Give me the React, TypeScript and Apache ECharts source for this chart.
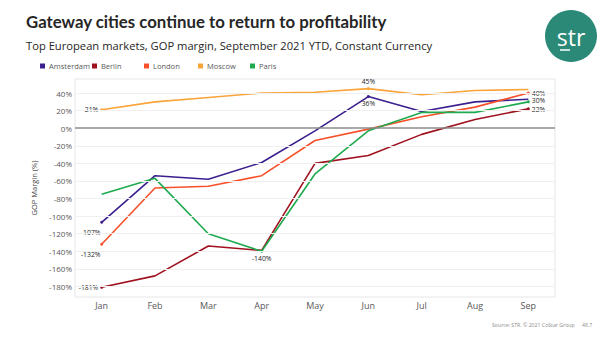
import React, { useEffect, useRef } from "react";
import * as echarts from "echarts";

const months = ["Jan", "Feb", "Mar", "Apr", "May", "Jun", "Jul", "Aug", "Sep"];
const amsterdam = [-107, -54, -58, -39, -3, 36, 19, 30, 33];
const berlin = [-181, -168, -134, -139, -40, -31, -7, 10, 22];
const london = [-132, -68, -66, -54, -14, -1, 13, 24, 40];
const moscow = [21, 30, 35, 40, 41, 45, 38, 43, 44];
const paris = [-75, -57, -120, -140, -52, -3, 18, 18, 30];
const gridTicks = [40, 20, -20, -40, -60, -80, -100, -120, -140, -160, -180];

const cityNames = ["Amsterdam", "Berlin", "London", "Moscow", "Paris"];
const cityValues = [amsterdam, berlin, london, moscow, paris];
const cityColors = ["#3b1f8e", "#a0111f", "#f7502a", "#faa43a", "#1faa4f"];
const legendLefts = [40, 92, 144, 198, 250];
// [city index, month index, label position]
const labelled: [number, number, string][] = [
  [0, 0, "bottomLeft"],
  [1, 0, "left"],
  [2, 0, "bottomLeft"],
  [3, 0, "left"],
  [4, 3, "bottom"],
  [3, 5, "top"],
  [0, 5, "bottom"],
  [2, 8, "right"],
  [4, 8, "rightUp"],
  [1, 8, "rightDown"],
];

export default function App() {
  const ref = useRef<HTMLDivElement>(null);
  useEffect(() => {
    if (!ref.current) return;
    const chart = echarts.init(ref.current, undefined, { renderer: "svg" });
    const series: any[] = cityNames.map((name, ci) => ({
      name,
      type: "line",
      symbol: "none",
      color: cityColors[ci],
      lineStyle: { width: 1.6, color: cityColors[ci] },
      data: cityValues[ci].map((v, mi) => {
        const l = labelled.find((x) => x[0] === ci && x[1] === mi);
        if (!l) return v;
        const pos = l[2];
        const label: any = {
          show: true,
          formatter: (p: any) => p.value + "%",
          fontSize: 6.8,
          color: "#262626",
          fontFamily: "Open Sans",
        };
        if (pos === "bottomLeft") {
          label.position = "bottom";
          label.offset = [-11, 0];
        } else if (pos === "rightUp") {
          label.position = "right";
          label.distance = 2;
          label.offset = [0, -1];
        } else if (pos === "rightDown") {
          label.position = "right";
          label.distance = 2;
          label.offset = [0, 1];
        } else {
          label.position = pos;
          label.distance = 2;
        }
        return { value: v, symbol: "circle", symbolSize: 3, label };
      }),
      z: 3,
    }));
    series.push({
      type: "line",
      data: [],
      silent: true,
      markLine: {
        silent: true,
        symbol: "none",
        label: { show: false },
        lineStyle: { color: "#f0f0f0", width: 1, type: "solid" },
        data: gridTicks.map((t) => ({ yAxis: t })),
      },
      z: 1,
    });
    series.push({
      type: "line",
      data: [],
      silent: true,
      markLine: {
        silent: true,
        symbol: "none",
        label: { show: false },
        lineStyle: { color: "#8c8c8c", width: 1.5, type: "solid" },
        data: [{ yAxis: 0 }],
      },
      z: 2,
    });
    chart.setOption({
      animation: false,
      textStyle: { fontFamily: "Open Sans" },
      title: [
        {
          text: "Gateway cities continue to return to profitability",
          left: 21,
          top: 8,
          textStyle: { fontSize: 16.8, fontWeight: "bold", color: "#262626", fontFamily: "Lato" },
        },
        {
          text: "Top European markets, GOP margin, September 2021 YTD, Constant Currency",
          left: 21,
          top: 35,
          textStyle: { fontSize: 11.2, fontWeight: "normal", color: "#262626", fontFamily: "Open Sans" },
        },
      ],
      legend: cityNames.map((n, i) => ({
        left: legendLefts[i],
        top: 62,
        itemWidth: 5,
        itemHeight: 5,
        itemGap: 4,
        icon: "rect",
        padding: 0,
        lineStyle: { width: 0, opacity: 0 },
        data: [n],
        textStyle: { fontSize: 7.5, color: "#595959", padding: [0, 0, 0, -1] },
      })),
      grid: {
        left: 75,
        right: 50,
        top: 79,
        bottom: 41,
        show: true,
        borderColor: "#e6e6e6",
        borderWidth: 1,
      },
      xAxis: {
        type: "category",
        data: months,
        axisLine: { show: false },
        axisTick: { show: false },
        axisLabel: { fontSize: 9, color: "#595959", margin: 4 },
      },
      yAxis: {
        type: "value",
        min: -192,
        max: 56,
        interval: 4,
        name: "GOP Margin (%)",
        nameLocation: "middle",
        nameRotate: 90,
        nameGap: 30,
        nameTextStyle: { fontSize: 7.5, color: "#404040" },
        axisLine: { show: false },
        axisTick: { show: false },
        splitLine: { show: false },
        axisLabel: {
          fontSize: 8,
          color: "#595959",
          margin: 3,
          formatter: (v: number) => (v % 20 === 0 ? Math.round(v) + "%" : ""),
        },
      },
      graphic: [
        { type: "circle", shape: { cx: 571, cy: 36, r: 26 }, style: { fill: "#2b8a77" } },
        {
          type: "text",
          x: 571,
          y: 37,
          style: {
            text: "str",
            fill: "#ffffff",
            fontSize: 23,
            fontFamily: "Open Sans",
            align: "center",
            verticalAlign: "middle",
          },
        },
        { type: "line", shape: { x1: 560, y1: 50, x2: 570, y2: 50 }, style: { stroke: "#ffffff", lineWidth: 1.5 } },
        {
          type: "text",
          x: 492,
          y: 325,
          style: { text: "Source: STR. © 2021 CoStar Group", fill: "#8c8c8c", fontSize: 5.2, verticalAlign: "middle", fontFamily: "Open Sans" },
        },
        {
          type: "text",
          x: 582,
          y: 325,
          style: { text: "48.7", fill: "#8c8c8c", fontSize: 5.2, verticalAlign: "middle", fontFamily: "Open Sans" },
        },
      ],
      series,
    });
    return () => chart.dispose();
  }, []);
  return <div ref={ref} style={{ width: 605, height: 338, position: "absolute", left: 0, top: 0, background: "#fff" }} />;
}
